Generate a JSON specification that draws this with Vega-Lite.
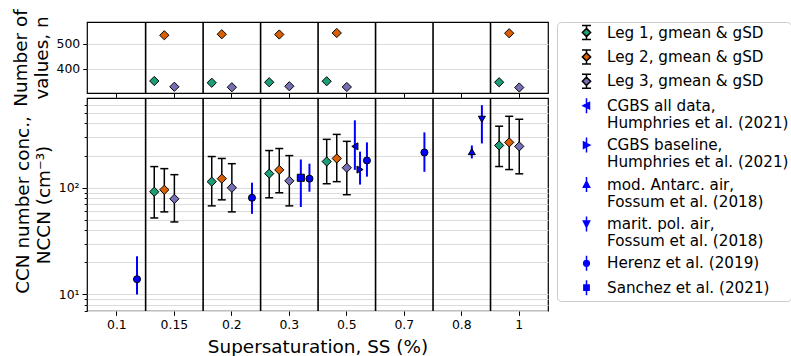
{
  "$schema": "https://vega.github.io/schema/vega-lite/v6.json",
  "padding": {"left": 10, "top": 8, "right": 0, "bottom": 0},
  "background": "white",
  "bounds": "flush",
  "data": {"values": [
    {"series": "Leg 1", "ss": "0.15", "n": 351, "gmean": 91.7, "lo": 52.1, "hi": 157.8},
    {"series": "Leg 1", "ss": "0.2", "n": 344, "gmean": 114, "lo": 67.6, "hi": 196},
    {"series": "Leg 1", "ss": "0.3", "n": 346, "gmean": 135.5, "lo": 80.5, "hi": 223},
    {"series": "Leg 1", "ss": "0.5", "n": 350, "gmean": 176, "lo": 109, "hi": 284},
    {"series": "Leg 1", "ss": "1", "n": 346, "gmean": 249, "lo": 158, "hi": 377},
    {"series": "Leg 2", "ss": "0.15", "n": 534, "gmean": 95.7, "lo": 59.4, "hi": 151},
    {"series": "Leg 2", "ss": "0.2", "n": 538, "gmean": 121.6, "lo": 77, "hi": 188},
    {"series": "Leg 2", "ss": "0.3", "n": 537, "gmean": 147, "lo": 89.7, "hi": 233},
    {"series": "Leg 2", "ss": "0.5", "n": 543, "gmean": 188, "lo": 114, "hi": 316},
    {"series": "Leg 2", "ss": "1", "n": 542, "gmean": 266, "lo": 148, "hi": 467},
    {"series": "Leg 3", "ss": "0.15", "n": 328, "gmean": 78.7, "lo": 47.8, "hi": 132.6},
    {"series": "Leg 3", "ss": "0.2", "n": 326, "gmean": 100, "lo": 59.4, "hi": 168},
    {"series": "Leg 3", "ss": "0.3", "n": 330, "gmean": 116, "lo": 67.6, "hi": 200},
    {"series": "Leg 3", "ss": "0.5", "n": 327, "gmean": 154, "lo": 86, "hi": 272},
    {"series": "Leg 3", "ss": "1", "n": 325, "gmean": 244, "lo": 135, "hi": 438},
    {"series": "CGBS all data", "ss": "0.5", "gmean": 244, "lo": 147, "hi": 428},
    {"series": "CGBS baseline", "ss": "0.5", "gmean": 148, "lo": 107, "hi": 218},
    {"series": "mod. Antarc. air", "ss": "0.8", "gmean": 218, "lo": 188, "hi": 249},
    {"series": "marit. pol. air", "ss": "0.8", "gmean": 438, "lo": 260, "hi": 594},
    {"series": "Herenz et al. (2019)", "ss": "0.1", "gmean": 13.9, "lo": 10, "hi": 22.8},
    {"series": "Herenz et al. (2019)", "ss": "0.2", "gmean": 80.5, "lo": 56.9, "hi": 111.5},
    {"series": "Herenz et al. (2019)", "ss": "0.3", "gmean": 121.6, "lo": 91.7, "hi": 168},
    {"series": "Herenz et al. (2019)", "ss": "0.5", "gmean": 180, "lo": 127, "hi": 266},
    {"series": "Herenz et al. (2019)", "ss": "0.7", "gmean": 214, "lo": 141, "hi": 330},
    {"series": "Sanchez et al. (2021)", "ss": "0.3", "gmean": 124, "lo": 66, "hi": 184}
  ]},
  "transform": [
    {"calculate": "datum.series == 'Leg 1' ? -0.35 : datum.series == 'Leg 2' ? -0.175 : datum.series == 'Leg 3' ? 0 : datum.series == 'CGBS all data' ? 0.14 : datum.series == 'CGBS baseline' ? 0.23 : datum.series == 'mod. Antarc. air' ? 0.175 : datum.series == 'Sanchez et al. (2021)' ? 0.2 : 0.35", "as": "dodge"}
  ],
  "spacing": 5,
  "vconcat": [
    {
      "width": 461,
      "height": 71,
      "layer": [
        {
          "transform": [{"aggregate": [{"op": "count", "as": "k"}], "groupby": ["ss"]}, {"filter": "datum.ss != '0.1'"}],
          "mark": {"type": "rule", "color": "black", "strokeWidth": 1.6},
          "encoding": {
            "x": {"field": "ss", "type": "ordinal", "bandPosition": 0,
                  "scale": {"type": "band", "domain": ["0.1", "0.15", "0.2", "0.3", "0.5", "0.7", "0.8", "1"], "paddingInner": 0, "paddingOuter": 0.01, "align": 1},
                  "axis": {"labels": false, "title": null, "grid": false}}
          }
        },
        {
          "transform": [{"filter": "isValid(datum.n)"}],
          "mark": {"type": "point", "filled": true, "shape": "diamond", "size": 85, "stroke": "black", "strokeWidth": 1, "opacity": 1},
          "encoding": {
            "x": {"field": "ss", "type": "ordinal"},
            "xOffset": {"field": "dodge", "type": "quantitative", "scale": {"domain": [-0.5, 0.5]}},
            "y": {"field": "n", "type": "quantitative",
                  "scale": {"domain": [303, 587], "nice": false, "zero": false},
                  "axis": {"values": [400, 500], "title": ["Number of", "values, n"], "titlePadding": 5, "titleLineHeight": 21}},
            "fill": {"condition": [{"test": "datum.series == 'Leg 1'", "value": "#1b9e77"}, {"test": "datum.series == 'Leg 2'", "value": "#d95f02"}], "value": "#7570b3"}
          }
        }
      ]
    },
    {
      "width": 461,
      "height": 213,
      "layer": [
        {
          "transform": [{"aggregate": [{"op": "count", "as": "k"}], "groupby": ["ss"]}, {"filter": "datum.ss != '0.1'"}],
          "mark": {"type": "rule", "color": "black", "strokeWidth": 1.6},
          "encoding": {
            "x": {"field": "ss", "type": "ordinal", "bandPosition": 0,
                  "scale": {"type": "band", "domain": ["0.1", "0.15", "0.2", "0.3", "0.5", "0.7", "0.8", "1"], "paddingInner": 0, "paddingOuter": 0.01, "align": 1},
                  "axis": {"title": "Supersaturation, SS (%)", "labelAngle": 0, "grid": false, "titlePadding": 7}}
          }
        },
        {
          "mark": {"type": "point", "filled": true, "opacity": 0, "size": 10},
          "encoding": {
            "x": {"field": "ss", "type": "ordinal"},
            "xOffset": {"field": "dodge", "type": "quantitative", "scale": {"domain": [-0.5, 0.5]}},
            "y": {"field": "gmean", "type": "quantitative"},
            "shape": {"field": "series", "type": "nominal",
                      "scale": {"domain": ["Leg 1", "Leg 2", "Leg 3", "CGBS all data", "CGBS baseline", "mod. Antarc. air", "marit. pol. air", "Herenz et al. (2019)", "Sanchez et al. (2021)"],
                                "range": [
                                  "M-0.6,-0.93H0.6M0,-0.93V-0.55M0,0.55V0.93M-0.6,0.93H0.6M0,-0.55L0.55,0L0,0.55L-0.55,0Z",
                                  "M-0.6,-0.93H0.6M0,-0.93V-0.55M0,0.55V0.93M-0.6,0.93H0.6M0,-0.55L0.55,0L0,0.55L-0.55,0Z",
                                  "M-0.6,-0.93H0.6M0,-0.93V-0.55M0,0.55V0.93M-0.6,0.93H0.6M0,-0.55L0.55,0L0,0.55L-0.55,0Z",
                                  "M0,-1V1M-0.45,0L0.4,-0.42L0.4,0.42Z",
                                  "M0,-1V1M0.45,0L-0.4,-0.42L-0.4,0.42Z",
                                  "M0,-1V1M0,-0.45L0.42,0.38L-0.42,0.38Z",
                                  "M0,-1V1M0,0.45L0.42,-0.38L-0.42,-0.38Z",
                                  "M0,-1V1M0.38,0A0.38,0.38,0,1,1,-0.38,0A0.38,0.38,0,1,1,0.38,0Z",
                                  "M0,-1V1M-0.35,-0.35H0.35V0.35H-0.35Z"
                                ]}},
            "stroke": {"field": "series", "type": "nominal",
                       "scale": {"domain": ["Leg 1", "Leg 2", "Leg 3", "CGBS all data", "CGBS baseline", "mod. Antarc. air", "marit. pol. air", "Herenz et al. (2019)", "Sanchez et al. (2021)"],
                                 "range": ["black", "black", "black", "blue", "blue", "blue", "blue", "blue", "blue"]}},
            "fill": {"field": "series", "type": "nominal",
                     "scale": {"domain": ["Leg 1", "Leg 2", "Leg 3", "CGBS all data", "CGBS baseline", "mod. Antarc. air", "marit. pol. air", "Herenz et al. (2019)", "Sanchez et al. (2021)"],
                               "range": ["#1b9e77", "#d95f02", "#7570b3", "blue", "blue", "blue", "blue", "blue", "blue"]},
                     "legend": {
                       "title": null, "orient": "right", "offset": 7.5, "padding": 2,
                       "strokeColor": "#cccccc", "cornerRadius": 4, "fillColor": "white",
                       "symbolSize": 225, "symbolStrokeWidth": 1.5, "symbolOpacity": 1,
                       "labelFont": "DejaVu Sans", "labelFontSize": 15.2, "labelColor": "black", "labelLimit": 400,
                       "labelOffset": 12, "symbolOffset": 19, "rowPadding": 3.4,
                       "labelExpr": "datum.label == 'CGBS all data' ? ['CGBS all data,', 'Humphries et al. (2021)'] : datum.label == 'CGBS baseline' ? ['CGBS baseline,', 'Humphries et al. (2021)'] : datum.label == 'mod. Antarc. air' ? ['mod. Antarc. air,', 'Fossum et al. (2018)'] : datum.label == 'marit. pol. air' ? ['marit. pol. air,', 'Fossum et al. (2018)'] : indexof(datum.label, 'Leg') == 0 ? datum.label + ', gmean & gSD' : datum.label",
                       "encode": {"labels": {"lineHeight": {"value": 16.7}}}
                     }}
          }
        },
        {
          "mark": {"type": "rule"},
          "encoding": {
            "x": {"field": "ss", "type": "ordinal"},
            "xOffset": {"field": "dodge", "type": "quantitative", "scale": {"domain": [-0.5, 0.5]}},
            "y": {"field": "lo", "type": "quantitative"},
            "y2": {"field": "hi"},
            "color": {"condition": {"test": "indexof(datum.series, 'Leg') == 0", "value": "black"}, "value": "blue"},
            "strokeWidth": {"condition": {"test": "indexof(datum.series, 'Leg') == 0", "value": 1.5}, "value": 2}
          }
        },
        {
          "transform": [{"filter": "indexof(datum.series, 'Leg') == 0"}],
          "mark": {"type": "tick", "orient": "horizontal", "size": 8, "thickness": 1.5, "color": "black", "opacity": 1},
          "encoding": {
            "x": {"field": "ss", "type": "ordinal"},
            "xOffset": {"field": "dodge", "type": "quantitative", "scale": {"domain": [-0.5, 0.5]}},
            "y": {"field": "lo", "type": "quantitative"}
          }
        },
        {
          "transform": [{"filter": "indexof(datum.series, 'Leg') == 0"}],
          "mark": {"type": "tick", "orient": "horizontal", "size": 8, "thickness": 1.5, "color": "black", "opacity": 1},
          "encoding": {
            "x": {"field": "ss", "type": "ordinal"},
            "xOffset": {"field": "dodge", "type": "quantitative", "scale": {"domain": [-0.5, 0.5]}},
            "y": {"field": "hi", "type": "quantitative"}
          }
        },
        {
          "mark": {"type": "point", "filled": true, "stroke": "black", "strokeWidth": 1, "opacity": 1},
          "encoding": {
            "x": {"field": "ss", "type": "ordinal"},
            "xOffset": {"field": "dodge", "type": "quantitative", "scale": {"domain": [-0.5, 0.5]}},
            "y": {"field": "gmean", "type": "quantitative",
                  "scale": {"type": "log", "domain": [7, 693], "nice": false},
                  "axis": {"values": [7, 8, 9, 10, 20, 30, 40, 50, 60, 70, 80, 90, 100, 200, 300, 400, 500, 600],
                           "labelExpr": "datum.value == 10 ? '10¹' : datum.value == 100 ? '10²' : ''",
                           "labelOverlap": false, "labelFlush": false,
                           "tickSize": {"condition": {"test": "datum.value == 10 || datum.value == 100", "value": 5}, "value": 2.8},
                           "title": ["CCN number conc.,", "NCCN (cm⁻³)"], "titlePadding": 5, "titleLineHeight": 21}},
            "size": {"condition": {"test": "indexof(datum.series, 'Leg') == 0", "value": 85}, "value": 50},
            "shape": {"condition": [
              {"test": "datum.series == 'CGBS all data'", "value": "triangle-left"},
              {"test": "datum.series == 'CGBS baseline'", "value": "triangle-right"},
              {"test": "datum.series == 'mod. Antarc. air'", "value": "triangle-up"},
              {"test": "datum.series == 'marit. pol. air'", "value": "triangle-down"},
              {"test": "datum.series == 'Herenz et al. (2019)'", "value": "circle"},
              {"test": "datum.series == 'Sanchez et al. (2021)'", "value": "square"}
            ], "value": "diamond"},
            "fill": {"condition": [
              {"test": "datum.series == 'Leg 1'", "value": "#1b9e77"},
              {"test": "datum.series == 'Leg 2'", "value": "#d95f02"},
              {"test": "datum.series == 'Leg 3'", "value": "#7570b3"}
            ], "value": "blue"}
          }
        }
      ]
    }
  ],
  "config": {
    "font": "DejaVu Sans",
    "view": {"stroke": "black", "strokeWidth": 1.2},
    "axis": {"labelFont": "DejaVu Sans", "labelFontSize": 12.4, "labelColor": "black",
             "titleFont": "DejaVu Sans", "titleFontSize": 18.4, "titleFontWeight": "normal", "titleColor": "black",
             "tickColor": "black", "tickSize": 4.3, "tickWidth": 1, "domain": false,
             "gridColor": "#dcdcdc", "gridWidth": 1.2, "labelPadding": 3},
    "axisX": {"grid": false}
  }
}
